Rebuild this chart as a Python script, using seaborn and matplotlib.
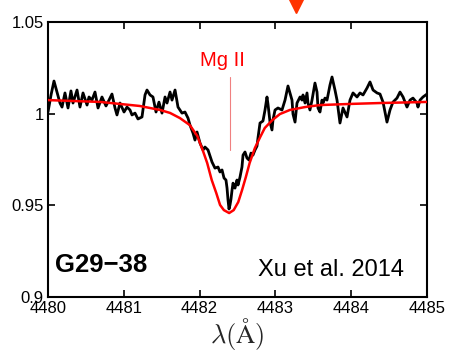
import matplotlib
matplotlib.use("Agg")
import matplotlib.pyplot as plt
import seaborn as sns
import numpy as np
import pandas as pd

# Observed spectrum (wavelength in Angstrom, normalized flux)
obs_lam = [4480.000, 4480.040, 4480.079, 4480.119, 4480.158, 4480.185, 4480.224, 4480.264,
           4480.303, 4480.330, 4480.383, 4480.422, 4480.462, 4480.515, 4480.541, 4480.580,
           4480.620, 4480.660, 4480.712, 4480.765, 4480.805, 4480.844, 4480.884, 4480.910,
           4480.950, 4481.003, 4481.042, 4481.082, 4481.108, 4481.148, 4481.187, 4481.240,
           4481.280, 4481.306, 4481.346, 4481.385, 4481.425, 4481.464, 4481.504, 4481.544,
           4481.570, 4481.610, 4481.636, 4481.676, 4481.715, 4481.768, 4481.807, 4481.847,
           4481.873, 4481.913, 4481.939, 4481.966, 4482.005, 4482.045, 4482.071, 4482.111,
           4482.164, 4482.203, 4482.243, 4482.269, 4482.296, 4482.322, 4482.348, 4482.362,
           4482.375, 4482.388, 4482.401, 4482.414, 4482.428, 4482.441, 4482.467, 4482.493,
           4482.507, 4482.533, 4482.559, 4482.573, 4482.599, 4482.625, 4482.652, 4482.678,
           4482.704, 4482.731, 4482.757, 4482.770, 4482.797, 4482.836, 4482.863, 4482.889,
           4482.902, 4482.929, 4482.955, 4482.968, 4482.995, 4483.034, 4483.087, 4483.127,
           4483.166, 4483.219, 4483.232, 4483.259, 4483.285, 4483.325, 4483.351, 4483.364,
           4483.391, 4483.417, 4483.430, 4483.456, 4483.483, 4483.522, 4483.549, 4483.562,
           4483.588, 4483.615, 4483.628, 4483.654, 4483.681, 4483.720, 4483.747, 4483.786,
           4483.813, 4483.852, 4483.892, 4483.945, 4483.984, 4484.024, 4484.077, 4484.116,
           4484.156, 4484.209, 4484.248, 4484.288, 4484.341, 4484.380, 4484.420, 4484.472,
           4484.512, 4484.551, 4484.604, 4484.644, 4484.684, 4484.736, 4484.776, 4484.815,
           4484.868, 4484.881, 4484.908, 4484.947, 4485.000]
obs_flux = [1.0009, 1.0102, 1.0178, 1.0118, 1.0058, 1.0036, 1.0113, 1.0031,
            1.0124, 1.0058, 1.0129, 1.0036, 1.0113, 1.0047, 1.0091, 1.0074,
            1.0118, 1.0031, 1.0091, 1.0042, 1.0074, 1.0107, 1.0031, 0.9993,
            1.0058, 1.0009, 1.0036, 1.0020, 0.9993, 1.0003, 0.9971, 0.9982,
            1.0102, 1.0129, 1.0102, 1.0091, 1.0009, 1.0063, 1.0003, 1.0091,
            1.0058, 1.0118, 1.0074, 1.0129, 1.0036, 1.0003, 1.0009, 0.9976,
            0.9938, 0.9894, 0.9856, 0.9900, 0.9840, 0.9802, 0.9818, 0.9802,
            0.9736, 0.9703, 0.9709, 0.9682, 0.9693, 0.9649, 0.9638, 0.9594,
            0.9529, 0.9480, 0.9502, 0.9534, 0.9583, 0.9621, 0.9594, 0.9638,
            0.9611, 0.9654, 0.9709, 0.9774, 0.9791, 0.9758, 0.9747, 0.9785,
            0.9774, 0.9802, 0.9823, 0.9867, 0.9949, 0.9960, 1.0020, 1.0091,
            1.0053, 0.9954, 0.9911, 0.9965, 1.0020, 1.0031, 1.0020, 1.0074,
            1.0151, 1.0074, 0.9998, 0.9954, 1.0058, 1.0091, 1.0074, 1.0102,
            1.0058, 1.0113, 1.0058, 1.0020, 1.0074, 1.0167, 1.0118, 1.0031,
            1.0009, 1.0074, 1.0058, 1.0085, 1.0074, 1.0156, 1.0200, 1.0129,
            1.0074, 0.9949, 1.0031, 0.9982, 1.0074, 1.0113, 1.0091, 1.0113,
            1.0102, 1.0140, 1.0173, 1.0129, 1.0113, 1.0107, 1.0063, 0.9954,
            1.0020, 1.0063, 1.0085, 1.0118, 1.0091, 1.0036, 1.0074, 1.0085,
            1.0058, 1.0036, 1.0074, 1.0091, 1.0107]

# Model fit
model_lam = [4480.00, 4480.69, 4481.21, 4481.48, 4481.61, 4481.74, 4481.87, 4481.97,
             4482.04, 4482.10, 4482.16, 4482.22, 4482.27, 4482.32, 4482.39, 4482.45,
             4482.51, 4482.56, 4482.61, 4482.66, 4482.73, 4482.80, 4482.86, 4482.96,
             4483.06, 4483.19, 4483.39, 4483.59, 4483.98, 4484.38, 4485.00]
model_flux = [1.0074, 1.0064, 1.0042, 1.0020, 1.0004, 0.9976, 0.9938, 0.9878,
              0.9802, 0.9731, 0.9638, 0.9567, 0.9502, 0.9474, 0.9458, 0.9474,
              0.9518, 0.9583, 0.9654, 0.9731, 0.9813, 0.9873, 0.9922, 0.9965,
              0.9998, 1.0020, 1.0036, 1.0047, 1.0053, 1.0058, 1.0064]

x_ticks = [4480, 4481, 4482, 4483, 4484, 4485]
y_ticks = [0.9, 0.95, 1.0, 1.05]
y_ticklabels = ["0.9", "0.95", "1", "1.05"]

line_lam = 4482.40
line_label = "Mg II"
star_label = "G29\u221238"
ref_label = "Xu et al. 2014"
marker_lam = 4483.27

sns.set_theme(style="ticks")
plt.rcParams["font.family"] = ["Liberation Sans", "DejaVu Sans"]
plt.rcParams["mathtext.fontset"] = "cm"

fig = plt.figure(figsize=(4.55, 3.59), dpi=100)
ax = fig.add_axes([48/455, 1-297/359, (427-48)/455, (297-22)/359])

df_obs = pd.DataFrame({"lam": obs_lam, "flux": obs_flux})
df_mod = pd.DataFrame({"lam": model_lam, "flux": model_flux})

sns.lineplot(data=df_obs, x="lam", y="flux", color="black", lw=2.0,
             estimator=None, sort=False, ax=ax, zorder=3,
             solid_joinstyle="round", solid_capstyle="round")
sns.lineplot(data=df_mod, x="lam", y="flux", color="#ff0000", lw=1.8,
             estimator=None, sort=False, ax=ax, zorder=4,
             solid_joinstyle="round")

ax.plot([line_lam, line_lam], [0.9802, 1.0200], color="#f08080", lw=0.8, zorder=2)
ax.text(4482.30, 1.0262, line_label, color="#ff0000", fontsize=14.5,
        ha="center", va="baseline")
ax.text(4480.09, 0.9136, star_label, color="black", fontsize=18.5,
        fontweight="bold", ha="left", va="baseline")
ax.text(4482.77, 0.9116, ref_label, color="black", fontsize=17,
        ha="left", va="baseline")

ax.plot([marker_lam], [1.0595], marker="v", color="#ff3300", markersize=12,
        clip_on=False, zorder=5)

ax.set_xlim(4480, 4485)
ax.set_ylim(0.9, 1.05)
ax.set_xticks(x_ticks)
ax.set_xticklabels([str(t) for t in x_ticks])
ax.set_yticks(y_ticks)
ax.set_yticklabels(y_ticklabels)
ax.tick_params(direction="in", length=5, width=1.2, labelsize=12, pad=3,
               top=True, right=True, colors="black")
for s in ax.spines.values():
    s.set_linewidth(1.5)
    s.set_color("black")
ax.set_xlabel(r"$\lambda(\mathrm{\AA})$", fontsize=19, labelpad=0)
ax.set_ylabel("")

fig.savefig("out.png", dpi=100)
